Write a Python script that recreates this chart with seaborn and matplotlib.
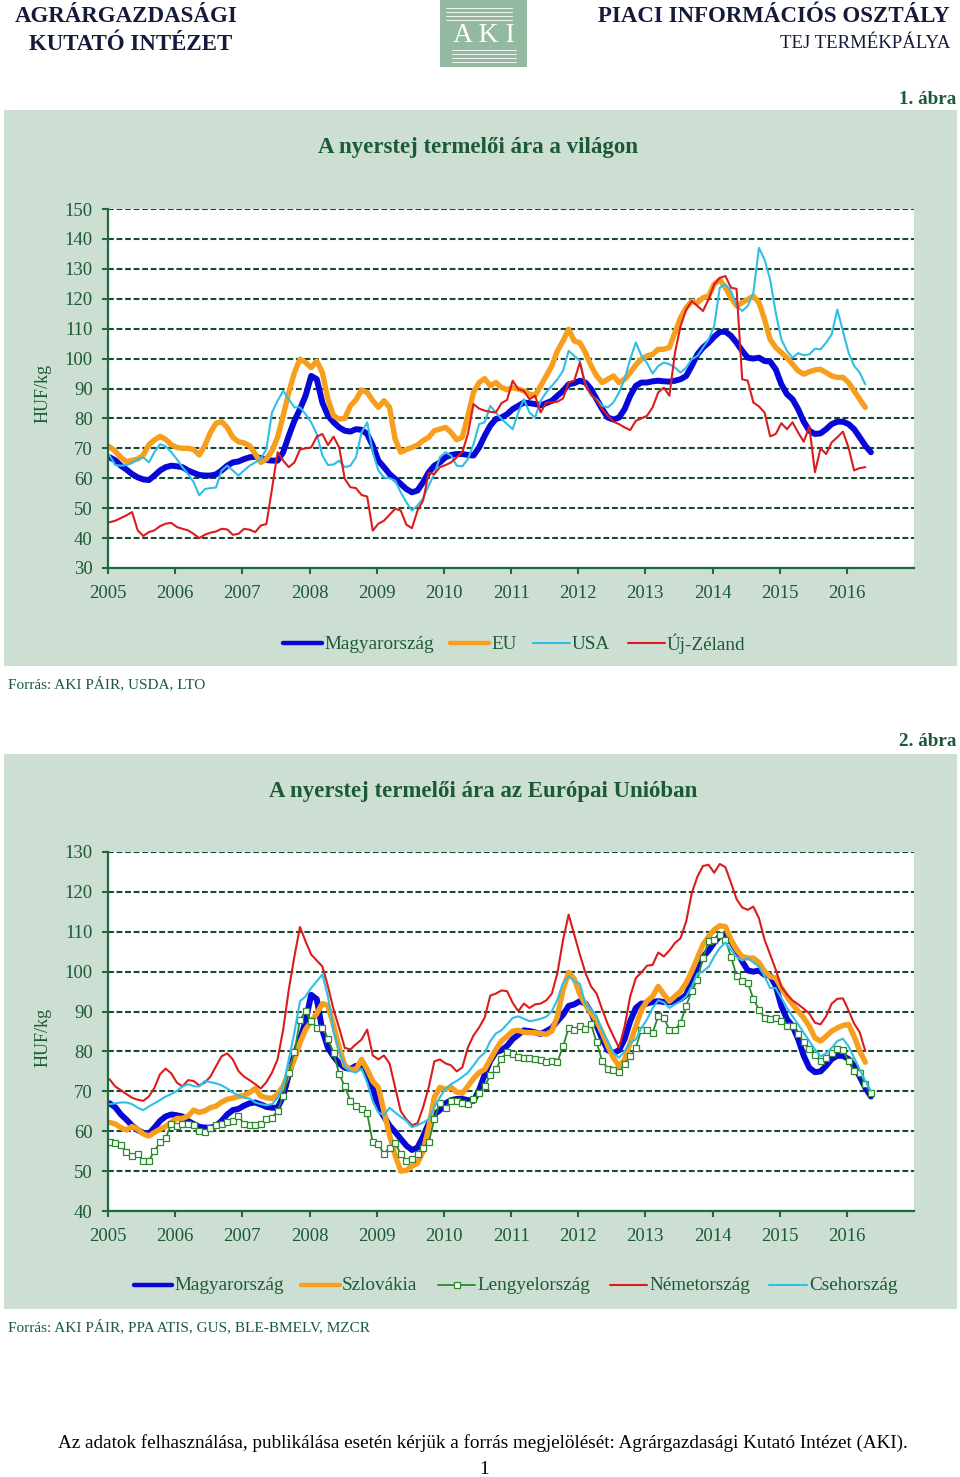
import numpy as np
import pandas as pd
import matplotlib
matplotlib.use("Agg")
import matplotlib.pyplot as plt
import seaborn as sns
from matplotlib.patches import Rectangle
from matplotlib.lines import Line2D

# --- Monthly raw milk producer prices (HUF/kg), from Jan 2005 ---
# chart 1: world
hu = [67.0, 66.0, 64.2, 62.9, 61.4, 60.3, 59.6, 59.4, 60.9, 62.6, 63.7, 64.2,   # 2005
      64.0, 63.7, 62.6, 61.8, 61.1, 60.9, 60.9, 61.3, 62.6, 64.2, 65.3, 65.6,   # 2006
      66.4, 67.0, 67.2, 66.7, 66.1, 65.9, 65.9, 68.7, 74.2, 79.2, 83.1, 87.6,   # 2007
      94.2, 93.1, 85.3, 80.9, 78.7, 77.0, 75.9, 75.6, 76.4, 76.2, 74.8, 70.9,   # 2008
      65.9, 63.7, 61.4, 59.8, 58.1, 56.4, 55.3, 55.9, 58.7, 62.0, 64.2, 65.3,   # 2009
      67.0, 67.8, 68.1, 68.1, 67.8, 67.6, 70.3, 74.2, 77.6, 79.8, 80.3, 81.4,   # 2010
      83.1, 84.2, 85.3, 85.1, 84.8, 84.4, 85.1, 85.9, 87.6, 89.2, 91.4, 91.8,   # 2011
      92.6, 92.0, 89.8, 86.4, 83.1, 80.3, 79.6, 80.3, 83.1, 87.6, 90.9, 92.0,   # 2012
      92.0, 92.4, 92.6, 92.4, 92.3, 92.6, 93.1, 94.2, 97.6, 101.4, 103.7, 105.3,  # 2013
      107.3, 108.9, 109.0, 107.6, 105.3, 102.6, 100.3, 100.0, 100.3, 99.2, 99.0, 96.4,  # 2014
      91.4, 88.1, 86.4, 83.1, 78.9, 75.9, 74.8, 75.0, 76.4, 78.1, 78.9, 78.9,   # 2015
      78.1, 76.4, 73.7, 70.9, 68.7]                                             # 2016
eu = [70.5, 69.0, 67.0, 65.5, 66.0, 66.4, 67.8, 71.2, 72.8, 74.0, 73.0, 71.2,
      70.3, 70.0, 70.0, 69.6, 67.8, 70.9, 75.3, 78.4, 78.9, 77.0, 73.7, 72.2,
      71.8, 70.9, 68.1, 65.3, 66.4, 69.2, 73.7, 80.9, 88.7, 95.3, 99.8, 98.7,
      97.0, 99.2, 95.3, 86.4, 80.9, 79.8, 80.0, 84.2, 86.2, 89.5, 88.7, 86.0,
      83.7, 85.9, 83.7, 73.1, 68.7, 69.6, 70.3, 71.1, 72.6, 73.7, 75.9, 76.4,
      77.0, 75.3, 72.9, 73.7, 80.9, 88.7, 92.0, 93.3, 90.9, 92.0, 90.3, 89.6,
      90.3, 89.8, 89.2, 88.1, 87.6, 90.9, 94.2, 97.6, 102.6, 105.9, 109.8, 105.9,
      105.3, 102.0, 97.6, 94.2, 92.0, 93.1, 94.2, 92.0, 93.1, 95.3, 97.9, 99.8,
      100.9, 101.4, 103.1, 103.1, 103.7, 108.7, 113.7, 117.0, 119.2, 118.7, 120.3, 120.9,
      124.8, 126.4, 123.7, 120.3, 117.6, 118.7, 119.8, 120.9, 118.7, 113.1, 106.4, 103.7,
      102.0, 100.3, 98.1, 95.9, 94.8, 95.6, 96.2, 96.4, 95.3, 94.2, 93.7, 93.7,
      92.0, 89.2, 86.4, 83.7]
usa = [67.6, 64.4, 64.2, 64.4, 65.1, 66.4, 67.0, 65.3, 68.7, 71.4, 70.7, 68.7,
       66.4, 63.7, 61.4, 58.7, 54.3, 56.4, 56.7, 56.9, 62.6, 64.2, 62.6, 60.9,
       62.6, 64.2, 65.3, 66.4, 69.8, 82.0, 85.9, 89.2, 86.4, 83.7, 83.7, 81.4,
       78.7, 74.8, 67.6, 64.4, 64.6, 65.9, 63.7, 64.2, 67.0, 75.3, 78.7, 68.7,
       62.6, 60.3, 60.0, 59.2, 55.3, 52.0, 49.2, 50.9, 53.3, 57.6, 61.4, 67.0,
       68.7, 67.6, 64.2, 64.0, 66.4, 71.4, 78.1, 78.7, 84.2, 82.0, 79.8, 78.1,
       76.4, 82.0, 86.4, 82.0, 80.3, 85.9, 88.7, 90.9, 93.1, 95.9, 102.6, 100.9,
       99.2, 91.4, 87.6, 86.4, 84.2, 83.7, 85.3, 88.7, 93.1, 99.8, 105.4, 101.0,
       98.5, 95.0, 97.5, 98.7, 98.1, 97.0, 95.3, 97.0, 99.8, 100.9, 103.7, 106.4,
       110.9, 123.7, 124.8, 122.6, 117.6, 115.9, 117.6, 122.0, 137.0, 133.1, 126.4, 115.3,
       106.4, 102.6, 100.3, 101.8, 101.1, 101.4, 103.3, 103.1, 105.3, 108.1, 116.4, 109.2,
       102.0, 97.6, 95.3, 91.4]
nz = [45.3, 45.8, 46.7, 47.6, 48.7, 42.6, 40.7, 42.0, 42.6, 44.0, 44.8, 45.1,
      43.7, 43.1, 42.6, 41.4, 40.0, 41.1, 41.8, 42.2, 43.1, 42.9, 41.1, 41.4,
      43.1, 42.8, 42.0, 44.2, 44.7, 56.4, 68.7, 65.9, 63.7, 65.3, 69.6, 70.0,
      70.3, 73.9, 74.8, 71.1, 73.9, 70.3, 59.8, 57.0, 56.7, 54.4, 53.9, 42.5,
      44.8, 45.8, 47.8, 49.8, 49.2, 44.5, 43.3, 49.2, 52.6, 61.8, 61.4, 63.7,
      64.4, 65.3, 67.0, 68.7, 74.8, 84.8, 83.3, 82.6, 82.2, 82.0, 85.1, 86.2,
      92.6, 89.8, 89.2, 86.4, 87.6, 82.0, 85.3, 85.3, 85.6, 86.7, 92.0, 92.6,
      98.7, 90.9, 88.1, 85.9, 83.1, 80.9, 78.9, 78.1, 77.0, 76.1, 79.2, 80.0,
      80.9, 83.7, 88.7, 90.3, 87.6, 102.0, 110.9, 116.4, 119.2, 117.6, 115.9, 119.8,
      124.8, 127.0, 127.6, 123.7, 123.3, 93.1, 92.6, 85.3, 84.0, 82.0, 74.0, 74.8,
      78.4, 76.4, 78.7, 75.3, 72.2, 77.3, 62.0, 70.0, 68.1, 72.0, 73.7, 75.6,
      70.3, 62.6, 63.4, 63.7]

# chart 2: EU member states (Magyarország = hu)
sk = [62.2, 61.8, 60.9, 60.3, 61.2, 60.5, 59.3, 58.8, 59.7, 60.5, 61.2, 62.3,
      63.2, 63.2, 63.8, 65.3, 64.7, 65.1, 65.9, 66.3, 67.3, 68.0, 68.3, 68.7,
      69.0, 69.7, 70.7, 68.8, 68.4, 68.2, 69.3, 71.3, 74.7, 78.0, 82.2, 85.5,
      87.5, 89.5, 92.0, 91.5, 86.5, 81.0, 76.5, 75.5, 75.5, 78.0, 75.5, 72.5,
      71.0, 65.0, 59.0, 54.0, 50.0, 50.2, 51.2, 52.0, 55.0, 61.0, 68.5, 71.0,
      70.5, 71.0, 69.8, 69.5, 71.3, 73.2, 74.7, 75.5, 78.0, 80.5, 82.6, 83.8,
      85.1, 85.3, 84.8, 84.7, 84.7, 84.5, 84.3, 85.1, 88.8, 95.5, 99.8, 98.2,
      94.3, 91.8, 89.7, 87.6, 84.7, 81.3, 78.4, 76.3, 78.0, 82.2, 86.3, 90.5,
      92.6, 93.8, 96.3, 94.3, 92.6, 93.8, 95.1, 97.2, 100.1, 103.4, 106.8, 108.8,
      110.5, 111.5, 111.3, 108.0, 105.5, 103.8, 103.4, 103.4, 102.3, 100.1, 98.8, 98.4,
      95.9, 93.8, 91.8, 90.1, 88.4, 86.3, 83.4, 82.6, 83.8, 85.1, 85.9, 86.5,
      86.8, 83.8, 80.1, 77.3]
pl = [57.3, 57.1, 56.5, 54.7, 53.7, 54.3, 52.6, 52.6, 55.1, 57.2, 58.2, 61.9,
      61.3, 61.8, 61.9, 61.5, 60.1, 59.8, 60.8, 61.5, 61.8, 62.2, 62.6, 63.8,
      61.8, 61.6, 61.6, 61.8, 63.0, 63.4, 65.1, 68.8, 74.7, 79.8, 88.0, 90.1,
      87.6, 85.9, 85.9, 83.2, 79.7, 74.3, 71.3, 67.6, 66.3, 65.5, 64.5, 57.2,
      56.8, 54.3, 55.9, 57.0, 54.3, 52.6, 53.0, 54.3, 55.9, 57.2, 63.0, 67.2,
      65.9, 67.6, 67.6, 67.2, 66.8, 68.2, 69.5, 71.3, 74.0, 75.5, 78.2, 79.8,
      79.3, 78.7, 78.4, 78.3, 78.2, 77.8, 77.4, 77.6, 77.4, 81.3, 85.9, 85.5,
      86.5, 85.7, 86.8, 82.3, 77.6, 75.7, 75.3, 74.8, 76.8, 78.8, 80.9, 85.5,
      85.5, 84.7, 88.8, 88.4, 85.5, 85.5, 87.2, 91.5, 95.1, 98.0, 103.4, 107.6,
      108.0, 109.3, 108.0, 103.8, 99.0, 97.6, 97.2, 93.2, 90.5, 88.4, 88.2, 88.4,
      87.6, 86.3, 86.3, 84.3, 82.3, 80.5, 79.0, 77.6, 78.4, 79.7, 80.7, 80.3,
      77.6, 75.1, 74.7, 71.8, 69.5]
de = [73.0, 71.2, 70.3, 69.3, 68.4, 67.9, 67.6, 68.7, 70.9, 74.3, 75.7, 74.5,
      72.2, 71.2, 72.8, 72.6, 71.5, 72.2, 73.7, 76.3, 78.8, 79.5, 78.0, 75.1,
      73.7, 72.8, 71.8, 70.7, 72.3, 74.7, 78.0, 85.5, 95.5, 103.8, 111.2, 107.6,
      104.3, 102.8, 101.3, 96.3, 90.5, 85.9, 80.9, 80.5, 81.8, 83.0, 85.5, 79.0,
      78.0, 79.0, 77.0, 71.0, 65.0, 63.0, 61.5, 62.0, 66.0, 71.0, 77.5, 78.0,
      77.0, 76.5, 75.0, 76.0, 81.0, 84.0, 86.0, 88.5, 94.0, 94.5, 95.3, 95.1,
      92.2, 90.1, 92.0, 90.9, 91.8, 92.0, 92.8, 94.5, 99.7, 108.0, 114.3, 109.3,
      104.3, 99.7, 96.3, 94.5, 90.5, 86.8, 83.8, 80.9, 86.3, 93.8, 98.4, 99.8,
      101.5, 101.7, 104.8, 103.8, 105.3, 107.2, 108.4, 112.6, 119.7, 123.8, 126.5, 126.8,
      124.8, 127.0, 126.2, 122.3, 118.2, 116.1, 115.5, 116.3, 113.4, 108.0, 104.3, 100.5,
      96.2, 94.3, 92.8, 91.8, 90.7, 89.5, 87.2, 86.8, 88.8, 92.0, 93.2, 93.3,
      90.3, 87.0, 84.8, 80.1]
cz = [66.8, 67.0, 67.2, 67.2, 66.8, 65.9, 65.3, 66.2, 67.0, 67.8, 68.7, 69.3,
      70.1, 71.2, 71.8, 71.3, 71.2, 72.6, 72.3, 72.0, 71.5, 70.7, 69.7, 69.0,
      68.4, 68.2, 67.2, 66.8, 66.5, 66.8, 68.4, 71.3, 78.0, 84.7, 92.6, 93.8,
      95.9, 97.6, 99.3, 93.8, 85.1, 80.1, 76.3, 75.1, 74.7, 75.7, 72.2, 67.5,
      64.7, 64.0, 65.9, 64.7, 63.6, 62.6, 61.0, 61.5, 62.2, 63.0, 66.0, 68.5,
      70.7, 71.8, 72.6, 73.6, 74.7, 76.5, 78.4, 79.7, 82.6, 84.5, 85.3, 86.8,
      88.4, 88.8, 88.2, 87.6, 87.8, 88.2, 88.7, 90.1, 93.0, 97.2, 98.8, 97.6,
      97.0, 91.8, 90.5, 88.8, 85.1, 82.6, 79.7, 78.4, 80.1, 82.2, 83.0, 85.9,
      88.0, 90.9, 92.8, 92.3, 90.9, 91.8, 92.6, 93.8, 96.3, 99.5, 100.1, 101.2,
      103.8, 105.9, 107.3, 105.5, 103.7, 102.8, 103.4, 102.3, 101.3, 98.8, 95.9, 95.9,
      93.4, 90.9, 88.8, 86.8, 84.7, 82.6, 80.5, 78.8, 79.5, 80.9, 82.6, 83.2,
      81.3, 78.4, 75.5, 72.6, 70.1]

years = list(range(2005, 2017))
yticks1 = list(range(30, 151, 10))
yticks2 = list(range(40, 131, 10))

# --- Colours ---
TXT = '#1b5a38'
AXIS = '#1e6a40'
GRID = '#1a4a32'
PANEL = '#cddfd3'
C_HU = '#0707d8'
C_OR = '#f79e1c'
C_CY = '#2fbfe6'
C_RED = '#dc1c1c'
C_PL = '#2b8a2b'

sns.set_theme(style="white")
plt.rcParams['font.family'] = ['Liberation Serif', 'DejaVu Serif']

W, H = 960, 1477
fig = plt.figure(figsize=(9.6, 14.77), dpi=100)


def fx(px):
    return px / W


def fy(py):
    return 1 - py / H


def month_x(vals):
    # one point per month, slightly after the start of the month
    return 2005 + (np.arange(len(vals)) + 0.3) / 12


# --- Panel backgrounds ---
fig.add_artist(Rectangle((fx(4), fy(666)), fx(953), 556 / H, transform=fig.transFigure,
                         facecolor=PANEL, edgecolor='none', zorder=-2))
fig.add_artist(Rectangle((fx(4), fy(1309)), fx(953), 555 / H, transform=fig.transFigure,
                         facecolor=PANEL, edgecolor='none', zorder=-2))


def style_axes(ax, yticks):
    ax.set_facecolor('white')
    ax.set_xlim(2005, 2017)
    ax.set_ylim(yticks[0], yticks[-1])
    ax.set_xticks(years)
    ax.set_xticklabels([str(y) for y in years])
    ax.set_yticks(yticks)
    for s in ['top', 'right']:
        ax.spines[s].set_visible(False)
    for s in ['left', 'bottom']:
        ax.spines[s].set_color(AXIS)
        ax.spines[s].set_linewidth(1.6)
        ax.spines[s].set_zorder(5)
    ax.tick_params(axis='both', direction='out', length=4, width=1.5, color=AXIS,
                   labelsize=13.5, labelcolor=TXT, pad=7, left=True, bottom=True)
    ax.tick_params(axis='x', pad=8.5)
    ax.yaxis.grid(True, color=GRID, linestyle=(0, (2.8, 1.3)), linewidth=1.5)
    ax.xaxis.grid(False)
    ax.set_axisbelow(True)
    ax.set_xlabel('')
    ax.set_ylabel('')


def draw(ax, vals, color, lw, **kw):
    sns.lineplot(x=month_x(vals), y=vals, ax=ax, color=color, linewidth=lw,
                 solid_joinstyle='round', solid_capstyle='round', legend=False, **kw)


# --- Chart 1 ---
ax1 = fig.add_axes([fx(108), fy(568), 806 / W, 359 / H])
draw(ax1, hu, C_HU, 4.3)
draw(ax1, eu, C_OR, 3.9)
draw(ax1, usa, C_CY, 1.5)
draw(ax1, nz, C_RED, 1.5)
style_axes(ax1, yticks1)

# --- Chart 2 ---
ax2 = fig.add_axes([fx(108), fy(1211), 806 / W, 359 / H])
draw(ax2, hu, C_HU, 4.3)
draw(ax2, sk, C_OR, 3.9)
draw(ax2, pl, C_PL, 1.3, marker='s', markersize=5, markerfacecolor='white',
     markeredgecolor=C_PL, markeredgewidth=0.9)
draw(ax2, de, C_RED, 1.5)
draw(ax2, cz, C_CY, 1.5)
style_axes(ax2, yticks2)

# --- Axis titles ---
fig.text(fx(43), fy(393), 'HUF/kg', rotation=90, ha='center', va='center', fontsize=13, color=TXT)
fig.text(fx(43), fy(1037), 'HUF/kg', rotation=90, ha='center', va='center', fontsize=13, color=TXT)

# --- Chart titles ---
fig.text(fx(478), fy(148), 'A nyerstej termelői ára a világon', ha='center', va='center',
         fontsize=16.5, fontweight='bold', color=TXT)
fig.text(fx(483), fy(791), 'A nyerstej termelői ára az Európai Unióban', ha='center', va='center',
         fontsize=16.5, fontweight='bold', color=TXT)
fig.text(fx(956), fy(99), '1. ábra', ha='right', va='center', fontsize=13.8, fontweight='bold', color=TXT)
fig.text(fx(956), fy(742), '2. ábra', ha='right', va='center', fontsize=13.8, fontweight='bold', color=TXT)


# --- Legends ---
def legend_item(x0, x1, y, text, color, lw, marker=False):
    fig.add_artist(Line2D([fx(x0), fx(x1)], [fy(y), fy(y)], transform=fig.transFigure,
                          color=color, linewidth=lw, solid_capstyle='round'))
    if marker:
        fig.add_artist(Line2D([fx((x0 + x1) / 2)], [fy(y)], transform=fig.transFigure,
                              marker='s', markersize=5, markerfacecolor='white',
                              markeredgecolor=color, markeredgewidth=0.9, linestyle='none'))
    fig.text(fx(x1 + 2), fy(y + 1), text, ha='left', va='center', fontsize=13.8, color=TXT)


legend_item(283, 322, 643, 'Magyarország', C_HU, 3.2)
legend_item(450, 489, 643, 'EU', C_OR, 3.2)
legend_item(533, 570, 643, 'USA', C_CY, 1.5)
legend_item(628, 665, 643, 'Új-Zéland', C_RED, 1.5)

legend_item(134, 172, 1285, 'Magyarország', C_HU, 3.2)
legend_item(301, 340, 1285, 'Szlovákia', C_OR, 3.2)
legend_item(438, 475, 1285, 'Lengyelország', C_PL, 1.3, marker=True)
legend_item(610, 647, 1285, 'Németország', C_RED, 1.5)
legend_item(769, 807, 1285, 'Csehország', C_CY, 1.5)

# --- Sources ---
fig.text(fx(8), fy(684), 'Forrás: AKI PÁIR, USDA, LTO', ha='left', va='center', fontsize=11, color=TXT)
fig.text(fx(8), fy(1327), 'Forrás: AKI PÁIR, PPA ATIS, GUS, BLE-BMELV, MZCR', ha='left', va='center',
         fontsize=11, color=TXT)

# --- Header ---
HEAD = '#141b3a'
fig.text(fx(126), fy(16), 'AGRÁRGAZDASÁGI', ha='center', va='center', fontsize=16.5, fontweight='bold', color=HEAD)
fig.text(fx(131), fy(45), 'KUTATÓ INTÉZET', ha='center', va='center', fontsize=16.5, fontweight='bold', color=HEAD)
fig.text(fx(950), fy(16), 'PIACI INFORMÁCIÓS OSZTÁLY', ha='right', va='center', fontsize=16.5,
         fontweight='bold', color=HEAD)
fig.text(fx(950), fy(43), 'TEJ TERMÉKPÁLYA', ha='right', va='center', fontsize=13.5, color=HEAD)

# logo box
fig.add_artist(Rectangle((fx(440), fy(67)), fx(87), 67 / H, transform=fig.transFigure,
                         facecolor='#93b9a0', edgecolor='none'))
for yy in [8, 12, 16, 20]:
    fig.add_artist(Line2D([fx(446), fx(512)], [fy(yy), fy(yy)], transform=fig.transFigure,
                          color='white', linewidth=0.6))
for yy in [50, 54, 58, 62]:
    fig.add_artist(Line2D([fx(452), fx(516)], [fy(yy), fy(yy)], transform=fig.transFigure,
                          color='white', linewidth=0.6))
fig.text(fx(484), fy(36), 'A K I', ha='center', va='center', fontsize=20, color='white')

# --- Footer ---
fig.text(fx(483), fy(1443), 'Az adatok felhasználása, publikálása esetén kérjük a forrás megjelölését: '
         'Agrárgazdasági Kutató Intézet (AKI).', ha='center', va='center', fontsize=13.8, color='black')
fig.text(fx(484), fy(1470), '1', ha='center', va='center', fontsize=13.8, color='black')

fig.savefig('out.png', dpi=100)
